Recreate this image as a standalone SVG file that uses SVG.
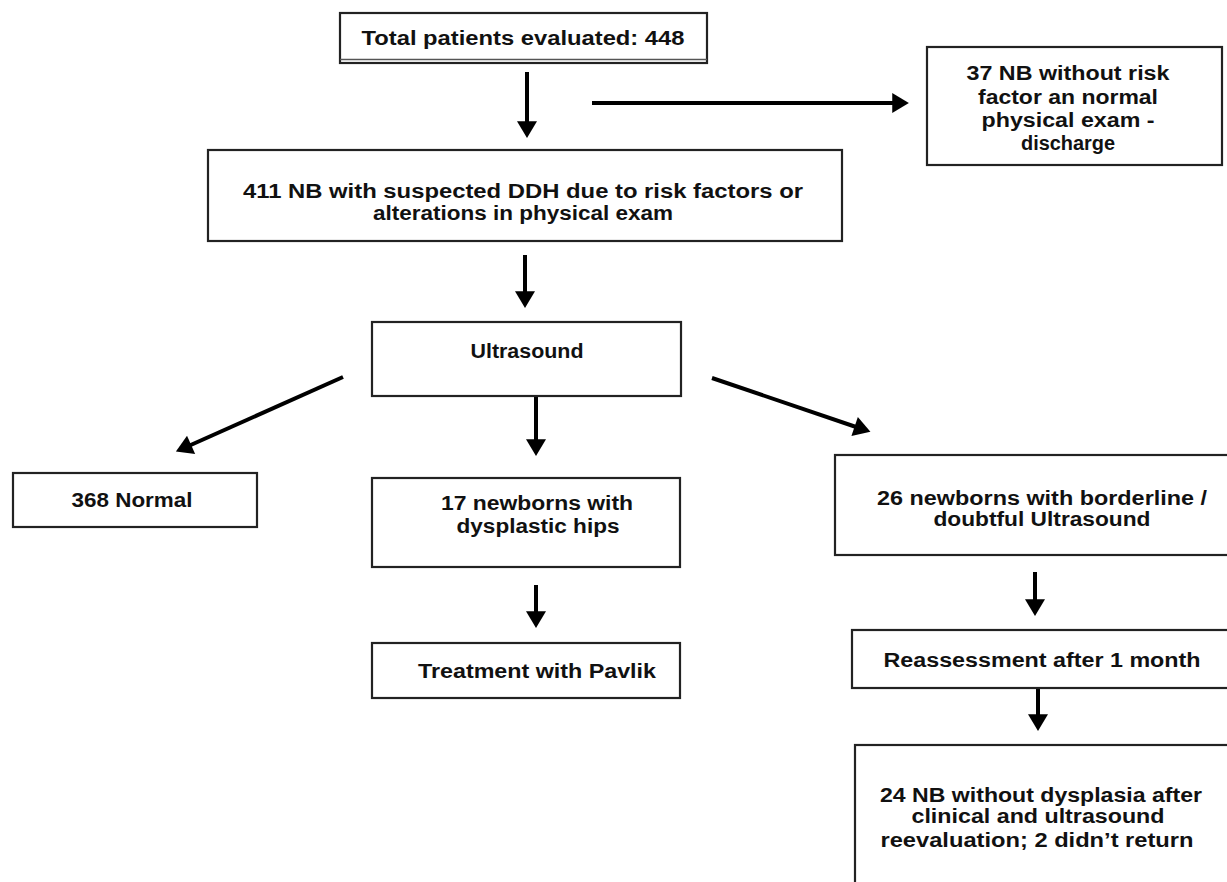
<svg xmlns="http://www.w3.org/2000/svg" width="1227" height="882" viewBox="0 0 1227 882">
<style>
.box{fill:#fff;stroke:#222;stroke-width:2.2}
.t{font-family:"Liberation Sans",Arial,Helvetica,sans-serif;font-weight:bold;font-size:20px;fill:#111;text-anchor:middle}
.c{stroke:#000;stroke-width:4;fill:none;marker-end:url(#ah)}
</style>
<defs>
<marker id="ah" markerUnits="userSpaceOnUse" markerWidth="20" markerHeight="20" refX="7" refY="9" orient="auto" viewBox="0 0 16 18">
<path d="M0,0 L15,9 L0,18 Z" fill="#000"/>
</marker>
</defs>
<rect width="1227" height="882" fill="#fff"/>
<g id="connectors">
<line class="c" x1="527" y1="72" x2="527" y2="129"/>
<line class="c" x1="592" y1="103" x2="900" y2="103"/>
<line class="c" x1="525" y1="255" x2="525" y2="299"/>
<line class="c" x1="343" y1="377" x2="184" y2="448"/>
<line class="c" x1="536" y1="392" x2="536" y2="447"/>
<line class="c" x1="712" y1="378" x2="862" y2="429"/>
<line class="c" x1="536" y1="585" x2="536" y2="619"/>
<line class="c" x1="1035" y1="572" x2="1035" y2="607"/>
<line class="c" x1="1038" y1="688" x2="1038" y2="722"/>
</g>
<g id="n-total">
<rect class="box" x="340" y="13" width="367" height="50"/>
<line x1="340" y1="59.5" x2="707" y2="59.5" stroke="#555" stroke-width="1.5"/>
<text class="t" x="523" y="45" textLength="323" lengthAdjust="spacingAndGlyphs">Total patients evaluated: 448</text>
</g>
<g id="n-discharge">
<rect class="box" x="927" y="47" width="295" height="118"/>
<text class="t" x="1068" y="80" textLength="203" lengthAdjust="spacingAndGlyphs">37 NB without risk</text>
<text class="t" x="1068" y="104" textLength="180" lengthAdjust="spacingAndGlyphs">factor an normal</text>
<text class="t" x="1068" y="127" textLength="173" lengthAdjust="spacingAndGlyphs">physical exam -</text>
<text class="t" x="1068" y="150" textLength="94" lengthAdjust="spacingAndGlyphs">discharge</text>
</g>
<g id="n-suspected">
<rect class="box" x="208" y="150" width="634" height="91"/>
<text class="t" x="523" y="198" textLength="560" lengthAdjust="spacingAndGlyphs">411 NB with suspected DDH due to risk factors or</text>
<text class="t" x="523" y="220" textLength="300" lengthAdjust="spacingAndGlyphs">alterations in physical exam</text>
</g>
<g id="n-ultrasound">
<rect class="box" x="372" y="322" width="309" height="74"/>
<text class="t" x="527" y="358" textLength="113" lengthAdjust="spacingAndGlyphs">Ultrasound</text>
</g>
<g id="n-normal">
<rect class="box" x="13" y="473" width="244" height="54"/>
<text class="t" x="132" y="507" textLength="121" lengthAdjust="spacingAndGlyphs">368 Normal</text>
</g>
<g id="n-dysplastic">
<rect class="box" x="372" y="478" width="308" height="89"/>
<text class="t" x="537" y="510" textLength="192" lengthAdjust="spacingAndGlyphs">17 newborns with</text>
<text class="t" x="538" y="533" textLength="163" lengthAdjust="spacingAndGlyphs">dysplastic hips</text>
</g>
<g id="n-pavlik">
<rect class="box" x="372" y="643" width="308" height="55"/>
<text class="t" x="537" y="678" textLength="238" lengthAdjust="spacingAndGlyphs">Treatment with Pavlik</text>
</g>
<g id="n-borderline">
<rect class="box" x="835" y="455" width="410" height="100"/>
<text class="t" x="1042" y="505" textLength="330" lengthAdjust="spacingAndGlyphs">26 newborns with borderline /</text>
<text class="t" x="1042" y="526" textLength="217" lengthAdjust="spacingAndGlyphs">doubtful Ultrasound</text>
</g>
<g id="n-reassessment">
<rect class="box" x="852" y="630" width="390" height="58"/>
<text class="t" x="1042" y="667" textLength="317" lengthAdjust="spacingAndGlyphs">Reassessment after 1 month</text>
</g>
<g id="n-final">
<rect class="box" x="855" y="745" width="390" height="160"/>
<text class="t" x="1041" y="802" textLength="322" lengthAdjust="spacingAndGlyphs">24 NB without dysplasia after</text>
<text class="t" x="1038" y="823" textLength="253" lengthAdjust="spacingAndGlyphs">clinical and ultrasound</text>
<text class="t" x="1037" y="847" textLength="313" lengthAdjust="spacingAndGlyphs">reevaluation; 2 didn’t return</text>
</g>
</svg>
